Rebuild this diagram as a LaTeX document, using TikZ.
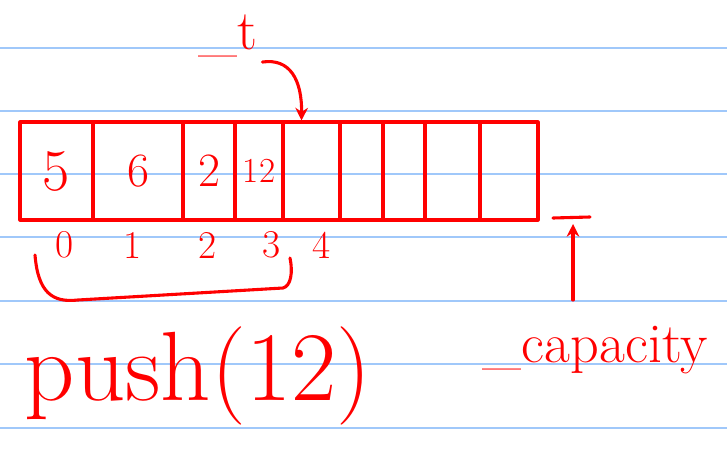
\documentclass[tikz,border=0pt]{standalone}
\usepackage{tikz}
\usetikzlibrary{arrows.meta}

\definecolor{ink}{RGB}{255,0,0}
\definecolor{paperline}{RGB}{160,200,250}

\tikzset{
  pen/.style={draw=ink, line width=2.2pt, line cap=round, line join=round},
  cell/.style={pen, minimum height=2.45cm, inner sep=0pt, text=ink},
  digit/.style={text=ink, font=\fontsize{34}{34}\selectfont},
  idx/.style={text=ink, font=\fontsize{28}{28}\selectfont},
  tip/.style={-{Stealth[length=9pt,width=9pt]}},
}

\begin{document}
\begin{tikzpicture}[x=0.025cm, y=-0.025cm]
  \useasboundingbox (0,0) rectangle (727,454);

  % ruled paper
  \foreach \y in {48,111,174,237,301,364,428}
    \draw[paperline, line width=1.4pt] (0,\y) -- (727,\y);

  % array cells
  \node[cell, minimum width=1.825cm, digit, font=\fontsize{42}{42}\selectfont] (c0) at (56.5,171) {5};
  \node[cell, minimum width=2.25cm, digit] (c1) at (138,171) {6};
  \node[cell, minimum width=1.3cm, digit] (c2) at (209,171) {2};
  \node[cell, minimum width=1.2cm, digit, font=\fontsize{25}{25}\selectfont] (c3) at (259,171) {12};
  \node[cell, minimum width=1.425cm] (c4) at (311.5,171) {};
  \node[cell, minimum width=1.075cm] (c5) at (361.5,171) {};
  \node[cell, minimum width=1.05cm] (c6) at (404,171) {};
  \node[cell, minimum width=1.375cm] (c7) at (452.5,171) {};
  \node[cell, minimum width=1.45cm] (c8) at (509,171) {};

  % indices
  \node[idx] (i0) at (65,245) {0};
  \node[idx] (i1) at (133,245) {1};
  \node[idx] (i2) at (208,245) {2};
  \node[idx] (i3) at (272,245) {3};
  \node[idx] (i4) at (322,245) {4};

  % brace under the filled part
  \draw[pen] (35,255) .. controls (38,292) and (52,303) .. (78,300)
    -- (283,288) .. controls (291,286) and (293,272) .. (290,258);

  % top pointer
  \node[text=ink, font=\fontsize{40}{40}\selectfont] (top) at (228,36) {\_t};
  \draw[pen, tip] (top.south east) .. controls (290,58) and (302,80) .. ([xshift=-0.25cm]c4.north);

  % capacity
  \node[text=ink, font=\fontsize{40}{40}\selectfont, anchor=base west] (cap) at (478,362) {\_capacity};
  \coordinate (capend) at (573,224);
  \draw[pen] (553,218) -- (590,217);
  \draw[pen, tip] (573,300) -- (capend);

  % operation
  \node[text=ink, font=\fontsize{70}{70}\selectfont, anchor=base west] (op) at (20,400) {push(12)};
\end{tikzpicture}
\end{document}
